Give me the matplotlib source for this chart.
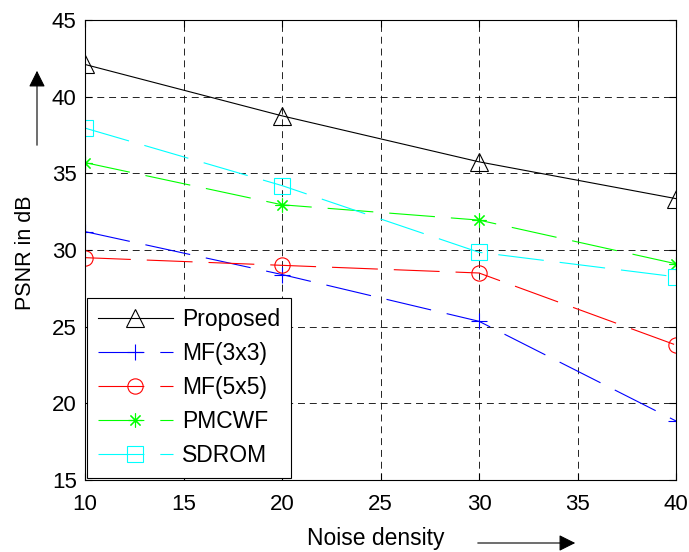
import matplotlib
matplotlib.use("Agg")
import matplotlib.pyplot as plt

# dados
densidade = [10, 20, 30, 40]
proposto = [42.1, 38.75, 35.75, 33.35]
mf3 = [31.2, 28.4, 25.35, 18.85]
mf5 = [29.5, 29.0, 28.5, 23.8]
pmcwf = [35.7, 32.95, 31.95, 29.1]
sdrom = [37.95, 34.2, 29.85, 28.25]

plt.rcParams["font.family"] = ["Liberation Sans", "DejaVu Sans"]
plt.rcParams["lines.scale_dashes"] = False

fig = plt.figure(figsize=(6.89, 5.52), dpi=100)
ax = fig.add_axes([85/689, 72/552, 591/689, 460/552])

tracejado = (0, (33, 11.5))
ax.plot(densidade, proposto, color="black", lw=0.8, marker="^", ms=12.5,
        mfc="none", mec="black", mew=0.8, label="Proposed")
ax.plot(densidade, mf3, color="blue", lw=0.8, ls=tracejado, marker="+", ms=11,
        mew=0.8, label="MF(3x3)")
ax.plot(densidade, mf5, color="red", lw=0.8, ls=tracejado, marker="o", ms=11,
        mfc="none", mew=0.8, label="MF(5x5)")
ax.plot(densidade, pmcwf, color="#00ff00", lw=0.8, ls=tracejado, marker=(8, 2, 0),
        ms=10, mec="#00ff00", mew=0.8, label="PMCWF")
ax.plot(densidade, sdrom, color="cyan", lw=0.8, ls=tracejado, marker="s", ms=11,
        mfc="none", mew=0.8, label="SDROM")

ax.set_xlim(10, 40)
ax.set_ylim(15, 45)
ax.set_xticks([10, 15, 20, 25, 30, 35, 40])
ax.set_yticks([15, 20, 25, 30, 35, 40, 45])
ax.tick_params(direction="in", top=True, right=True, labelsize=16, length=5)
ax.tick_params(axis="x", pad=10)
ax.tick_params(axis="y", pad=6)
ax.grid(True, color="black", ls=(0, (5, 3.5)), lw=0.6)
for s in ax.spines.values():
    s.set_linewidth(0.8)

leg = ax.legend(loc="lower left", fontsize=16.5, fancybox=False, edgecolor="black",
                framealpha=1, handlelength=3.3, borderaxespad=0.1, borderpad=0.45,
                labelspacing=0.48, handletextpad=0.4)
leg.get_frame().set_linewidth(0.8)

fig.text(26/689, 1 - 253/552, "PSNR in dB", rotation=90, fontsize=15.5,
         ha="center", va="center")
fig.text(376/689, 1 - 539/552, "Noise density", fontsize=16.5,
         ha="center", va="center")

# setas
ax.annotate("", xy=(37/689, 1 - 68/552), xytext=(37/689, 1 - 148/552),
            xycoords="figure fraction",
            arrowprops=dict(arrowstyle="-|>", color="black", lw=0.8,
                            mutation_scale=25))
ax.annotate("", xy=(578/689, 1 - 543/552), xytext=(475/689, 1 - 543/552),
            xycoords="figure fraction",
            arrowprops=dict(arrowstyle="-|>", color="black", lw=0.8,
                            mutation_scale=25))

plt.savefig("out.png", dpi=100)
